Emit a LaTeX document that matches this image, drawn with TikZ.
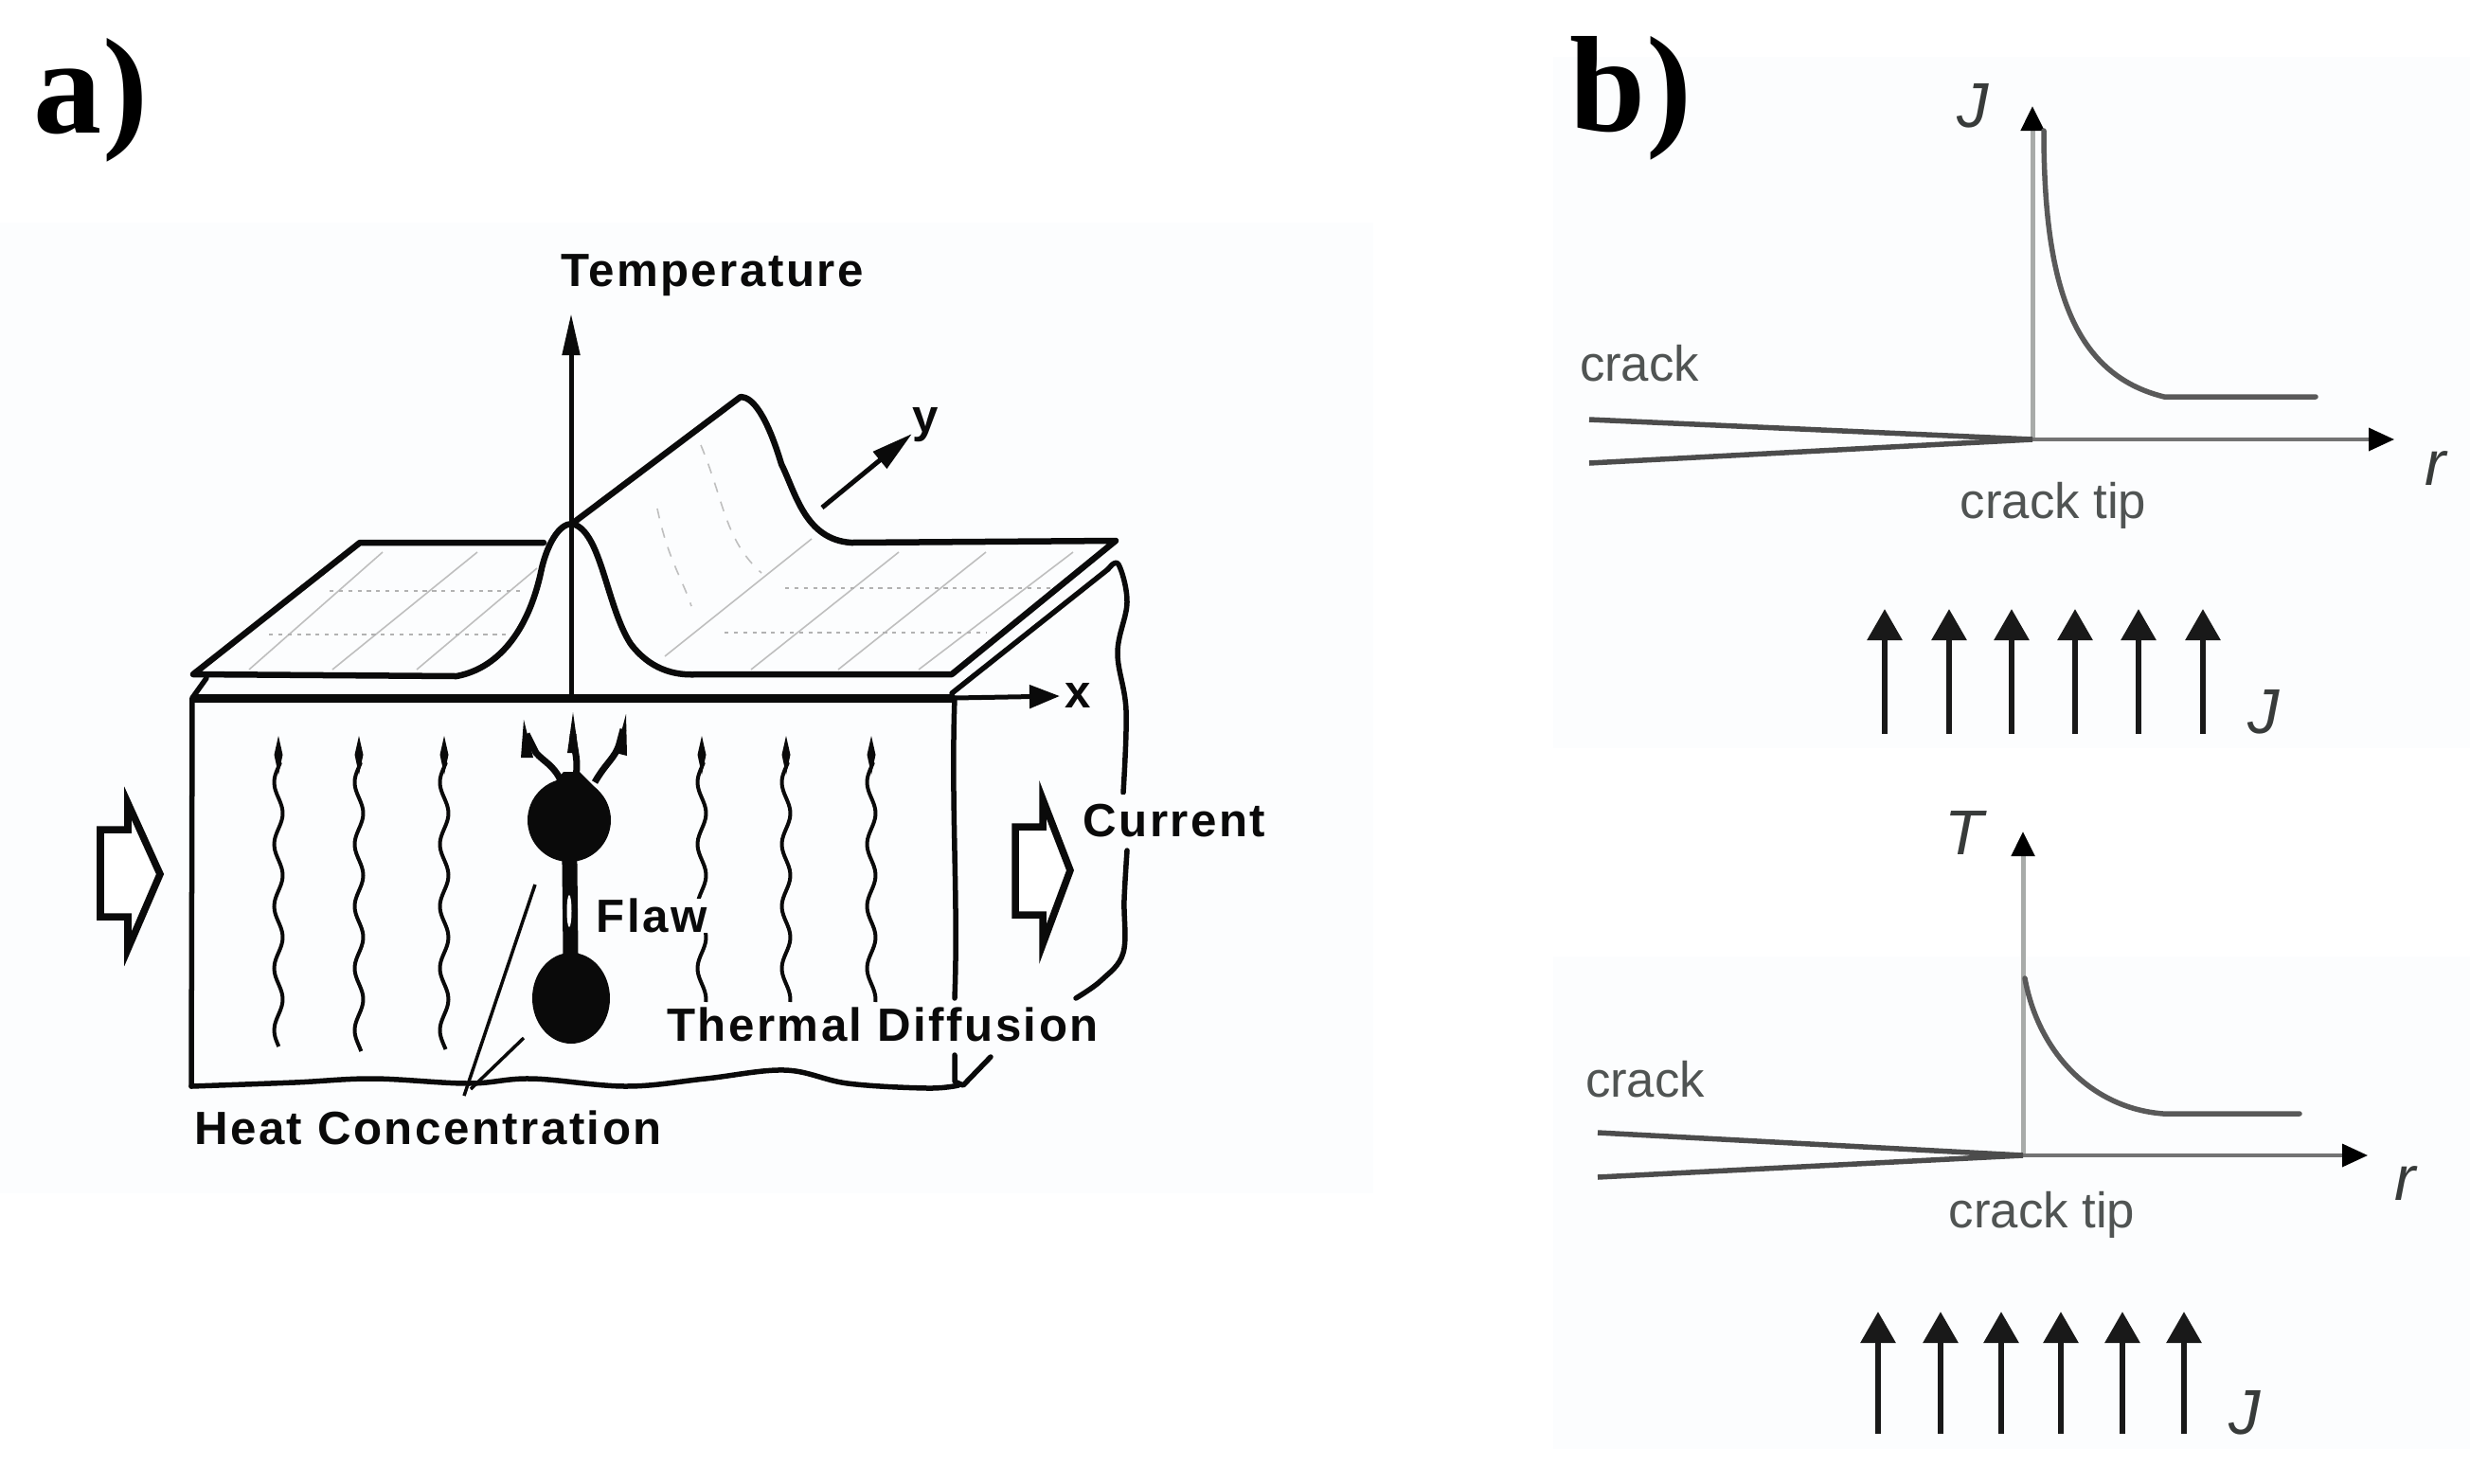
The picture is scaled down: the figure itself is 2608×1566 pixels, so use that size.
\documentclass[tikz,border=0pt]{standalone}
\usepackage{fontspec}
\setmainfont{Liberation Sans}
\newfontfamily\lblfont[LetterSpace=5]{Liberation Sans Bold}
\newfontfamily\tagfont{Liberation Serif Bold}
\usetikzlibrary{arrows.meta}
\definecolor{ink}{HTML}{0A0A0A}
\definecolor{axisgray}{HTML}{A8ABA9}
\definecolor{graytext}{HTML}{505453}
\definecolor{tintbg}{HTML}{FCFDFE}
\tikzset{
  px/.style={line width=#1*0.2845pt},
  tag/.style={font=\tagfont\fontsize{41}{41}\selectfont,text=black,inner sep=0pt},
  lbl/.style={font=\lblfont\fontsize{14}{14}\selectfont,text=ink,inner sep=0pt},
  glbl/.style={font=\fontsize{15}{15}\selectfont,text=graytext,inner sep=0pt},
  ilbl/.style={font=\itshape\fontsize{19}{19}\selectfont,text=graytext!70!black,inner sep=0pt},
  sheet/.style={draw=ink,px=6.5,line join=round,line cap=round},
  edge/.style={draw=ink,px=5.5,line join=round,line cap=round},
  grid/.style={draw=black!25,px=1.6},
  griddot/.style={draw=black!30,px=2,dash pattern=on 1.2pt off 1.6pt},
  wave/.style={draw=ink,px=4},
  openarrow/.style={draw=ink,fill=white,px=7.5,line join=miter},
  fluxarrow/.style={draw=black!90,px=6,-{Triangle[length=33*0.2845pt,width=36*0.2845pt]}},
  axisv/.style={draw=axisgray,px=5,-{Triangle[length=26*0.2845pt,width=24*0.2845pt,color=black]}},
  axish/.style={draw=black!55,px=3.5,-{Triangle[length=27*0.2845pt,width=24*0.2845pt,color=black]}},
  crackline/.style={draw=black!70,px=5.5},
  curveline/.style={draw=black!65,px=5.5,line cap=round},
}
\begin{document}
\begin{tikzpicture}[x=0.01cm,y=-0.01cm]
\useasboundingbox (0,0) rectangle (2608,1566);
\fill[tintbg] (0,235) rectangle (1450,1260);
\fill[tintbg] (1640,60) rectangle (2608,790);
\fill[tintbg] (1640,1010) rectangle (2608,1530);

% panel tags
\node[tag] (taga) at (96,106) {a)};
\node[tag] (tagb) at (1722,104) {b)};

% ---------- panel a: grid on the sheet
\foreach \xa/\ya/\xb/\yb in {263/707/404/583, 351/707/504/583, 440/707/567/600,
  702/693/857/569, 793/707/949/583, 885/707/1041/583, 970/707/1133/583}
  \draw[grid] (\xa,\ya) -- (\xb,\yb);
\draw[griddot] (348,624) -- (553,624);
\draw[griddot] (284,670) -- (539,670);
\draw[griddot] (829,621) -- (1111,621);
\draw[griddot] (765,668) -- (1041,668);
\draw[grid,dashed] (740,470) .. controls (765,530) and (765,570) .. (804,605);
\draw[grid,dashed] (694,537) .. controls (705,590) and (720,610) .. (730,640);

% block
\coordinate (bTL) at (203,737);
\coordinate (bTR) at (1008,737);
\coordinate (bBL) at (202,1147);
\coordinate (bBR) at (1012,1146);
\draw[edge] (218,716) -- (bTL) -- (bBL);
\draw[edge] plot[smooth,tension=.6] coordinates {(202,1147) (311,1143) (394,1139) (494,1144) (561,1139) (661,1147) (745,1139) (829,1130) (895,1144) (979,1149) (1012,1146)};
\draw[edge] (1008,737) .. controls (1004,850) and (1012,950) .. (1008,1054);
\draw[edge] (1008,1114) -- (1008,1142) -- (1017,1146) -- (1046,1116);
\draw[edge] (1005,732) -- (1170,601);
\draw[edge] plot[smooth,tension=.6] coordinates {(1170,601) (1181,596) (1190,636) (1180,689) (1189,750) (1186,837)};
\draw[edge] plot[smooth,tension=.6] coordinates {(1190,898) (1187,950) (1186,1006) (1163,1035) (1136,1054)};

% x axis
\coordinate (xEnd) at (1119,735);
\draw[draw=ink,px=9] (bTL) -- (bTR);
\draw[draw=ink,px=5,-{Triangle[length=32*0.2845pt,width=24*0.2845pt]}] (bTR) -- (xEnd);
\node[lbl] (xlab) at (1138,734) {x};

% temperature axis
\coordinate (tBase) at (603,737);
\coordinate (tTop) at (603,331);
\draw[draw=ink,px=5,-{Triangle[length=44*0.2845pt,width=18*0.2845pt]}] (tBase) -- (tTop);
\node[lbl] (templab) at (752,291) {Temperature};

% sheet outline
\draw[sheet] (574,573) -- (380,573) -- (204,712) -- (482,714)
  .. controls (530,705) and (560,660) .. (572,600)
  .. controls (578,575) and (590,553) .. (604,553)
  .. controls (635,560) and (640,640) .. (666,680)
  .. controls (685,705) and (710,714) .. (737,712)
  -- (1005,712) -- (1178,571) -- (899,573)
  .. controls (850,570) and (840,520) .. (825,490)
  .. controls (810,440) and (795,419) .. (782,419)
  -- (604,553);

% y axis
\coordinate (yStart) at (868,536);
\coordinate (yEnd) at (963,458);
\draw[draw=ink,px=5,-{Triangle[length=44*0.2845pt,width=22*0.2845pt]}] (yStart) -- (yEnd);
\node[lbl] (ylab) at (977,449) {y};

% wavy heat flow
\foreach \xx/\yb in {294/1105, 379/1110, 469/1108, 830/1058, 920/1058}{
  \draw[wave] plot[smooth,domain=\yb:805,samples=70] ({\xx+4.5*sin((\x-777)*5.5)},\x);
  \fill[ink] (\xx,777) -- (\xx+4.5,797) -- (\xx,818) -- (\xx-4.5,797) -- cycle;
}
\draw[wave] plot[smooth,domain=1058:805,samples=70] ({741+4.5*sin((\x-777)*5.5)},\x);
\fill[ink] (741,777) -- (745.5,797) -- (741,818) -- (736.5,797) -- cycle;

% flaw
\coordinate (blobTop) at (601,866);
\coordinate (blobBot) at (603,1054);
\draw[ink,px=16] (blobTop) -- (blobBot);
\fill[ink] (blobTop) ellipse (44 and 44);
\fill[ink] (blobBot) ellipse (41 and 48);
\fill[ink] (578,835) -- (595,815) -- (612,815) -- (632,835) -- cycle;
\fill[white] (601,962) ellipse (2.5 and 17);
\draw[draw=ink,px=7,line join=round] (593,826) .. controls (585,808) and (575,805) .. (566,795) -- (556,775);
\draw[draw=ink,px=7,line join=round] (607,826) .. controls (612,800) and (606,795) .. (605,775);
\draw[draw=ink,px=7,line join=round] (628,826) .. controls (640,805) and (650,800) .. (654,785) -- (658,770);
\fill[ink] (553,760) -- (563,800) -- (550,800) -- cycle;
\fill[ink] (605,752) -- (611,795) -- (599,795) -- cycle;
\fill[ink] (661,754) -- (662,798) -- (650,795) -- cycle;

% leaders
\coordinate (leadFoot) at (490,1157);
\coordinate (leadA) at (565,934);
\coordinate (leadB) at (553,1096);
\draw[draw=ink,px=3.5] (leadFoot) -- (leadA);
\draw[draw=ink,px=3.5] (497,1150) -- (leadB);

% labels
\node[lbl,fill=tintbg,inner xsep=2pt] (flawlab) at (688,967) {Flaw};
\node[lbl,fill=tintbg,inner sep=1pt] (diffusionlab) at (932,1082) {Thermal Diffusion};
\node[lbl] (heatlab) at (452,1191) {Heat Concentration};
\node[lbl,fill=tintbg,inner ysep=3pt,inner xsep=1pt] (currentlab) at (1240,867) {Current};

% open arrows
\draw[openarrow] (106,876) -- (106,968) -- (135,968) -- (135,1002) -- (169,923) -- (135,848) -- (135,876) -- cycle;
\draw[openarrow] (1072,873) -- (1072,966) -- (1101,966) -- (1101,997) -- (1130,919) -- (1101,844) -- (1101,873) -- cycle;

% ---------- panel b upper
\coordinate (o1) at (2146,464);
\coordinate (jTop) at (2146,112);
\coordinate (r1End) at (2528,464);
\coordinate (c1a) at (1678,443);
\coordinate (c1b) at (1678,489);
\draw[axisv] (o1) -- (jTop);
\draw[axish] (o1) -- (r1End);
\draw[crackline] (c1a) -- (o1);
\draw[crackline] (c1b) -- (o1);
\draw[curveline] (2158,138) .. controls (2158,300) and (2188,395) .. (2285,419) -- (2445,419);
\node[ilbl] (j1) at (2083,112) {J};
\node[ilbl] (r1) at (2572,495) {r};
\node[glbl] (crack1) at (1731,384) {crack};
\node[glbl] (tip1) at (2168,534) {crack tip};
\foreach \xx [count=\i] in {1990,2058,2124,2191,2258,2326}{
  \coordinate (fb\i) at (\xx,775);
  \coordinate (ft\i) at (\xx,643);
  \draw[fluxarrow] (fb\i) -- (ft\i);
}
\node[ilbl] (j2) at (2390,752) {J};

% ---------- panel b lower
\coordinate (o2) at (2136,1220);
\coordinate (tTop2) at (2136,878);
\coordinate (r2End) at (2500,1220);
\coordinate (c2a) at (1687,1196);
\coordinate (c2b) at (1687,1243);
\draw[axisv] (o2) -- (tTop2);
\draw[axish] (o2) -- (r2End);
\draw[crackline] (c2a) -- (o2);
\draw[crackline] (c2b) -- (o2);
\draw[curveline] (2138,1033) .. controls (2152,1110) and (2207,1170) .. (2284,1176) -- (2428,1176);
\node[ilbl] (t1) at (2074,880) {T};
\node[ilbl] (r2) at (2540,1250) {r};
\node[glbl] (crack2) at (1737,1140) {crack};
\node[glbl] (tip2) at (2156,1283) {crack tip};
\foreach \xx [count=\i] in {1983,2049,2113,2176,2241,2306}{
  \coordinate (gb\i) at (\xx,1514);
  \coordinate (gt\i) at (\xx,1385);
  \draw[fluxarrow] (gb\i) -- (gt\i);
}
\node[ilbl] (j3) at (2370,1492) {J};
\end{tikzpicture}
\end{document}
